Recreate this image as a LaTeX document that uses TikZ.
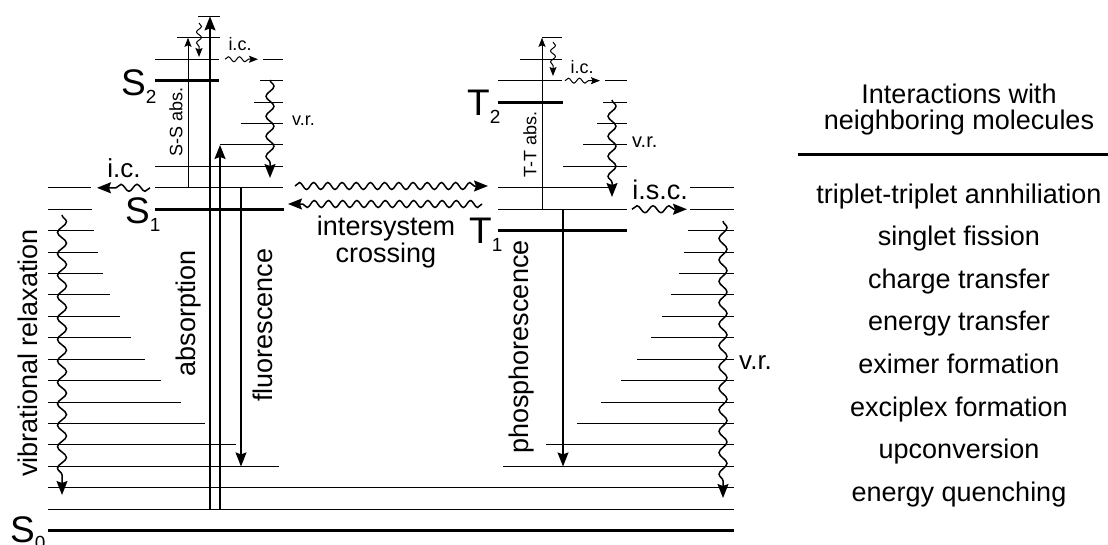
\documentclass[tikz,border=0pt]{standalone}
\usepackage{fontspec}
\setmainfont{Liberation Sans}
\usetikzlibrary{arrows.meta,decorations.pathmorphing}
\newcommand\lvy[1]{530.7-21.43*(#1)}
\begin{document}
\begin{tikzpicture}[x=1pt,y=-1pt,
  lev/.style={line width=1pt},
  thicklev/.style={line width=3pt},
  bighead/.style={-{Stealth[length=14pt,width=11pt,inset=2pt]}},
  smallhead/.style={-{Stealth[length=9pt,width=7pt,inset=1.5pt]}},
  bigarrow/.style={line width=1.6pt,bighead},
  thinarrow/.style={line width=1.3pt,bighead},
  smallarrow/.style={line width=1pt,smallhead},
  vrwave/.style={line width=1.5pt,bighead,decorate,decoration={snake,amplitude=4pt,segment length=20pt,post length=12pt}},
  iscwave/.style={line width=1.5pt,bighead,decorate,decoration={snake,amplitude=3.5pt,segment length=14.2pt,post length=12pt}},
  icwave/.style={line width=1.5pt,bighead,decorate,decoration={snake,amplitude=3.5pt,segment length=16pt,post length=12pt}},
  smallwave/.style={line width=1pt,smallhead,decorate,decoration={snake,amplitude=2.5pt,segment length=11pt,post length=7pt}},
  lab/.style={inner sep=0pt,font=\fontsize{27}{27}\selectfont},
  midlab/.style={inner sep=0pt,font=\fontsize{20}{20}\selectfont},
  smalllab/.style={inner sep=0pt,font=\fontsize{18}{18}\selectfont},
  statelab/.style={inner sep=0pt,anchor=base west,font=\fontsize{37}{37}\selectfont}
]
\useasboundingbox (0,0) rectangle (1108,544);

% ---- ground state and full-width levels
\draw[thicklev] (48,{\lvy{0}}) -- (734,{\lvy{0}});
\foreach \k in {1,2} \draw[lev] (48,{\lvy{\k}}) -- (734,{\lvy{\k}});

% ---- left vibrational ladder (S manifold)
\foreach \k/\xe in {3/279,4/236,5/205,6/181,7/161,8/145,9/131,10/120,11/110,12/103,13/98,14/94,15/92,16/91}
  \draw[lev] (48,{\lvy{\k}}) -- (\xe,{\lvy{\k}});

% ---- right vibrational ladder (T manifold)
\foreach \k/\xs in {3/503,4/546,5/577,6/601,7/621,8/637,9/651,10/662,11/671,12/679,13/684,14/688,15/690,16/690}
  \draw[lev] (\xs,{\lvy{\k}}) -- (734,{\lvy{\k}});

% ---- singlet levels
\draw[thicklev] (155,{\lvy{15}}) -- (284,{\lvy{15}});
\draw[thicklev] (155,{\lvy{21}}) -- (219,{\lvy{21}});
\foreach \k/\xs/\xe in {16/155/283,17/155/283,18/220/283,19/241/283,20/254/283,21/260/283,22/155/219,22/263/283,23/177/220,24/198/220}
  \draw[lev] (\xs,{\lvy{\k}}) -- (\xe,{\lvy{\k}});

% ---- triplet levels
\draw[thicklev] (498,{\lvy{14}}) -- (627,{\lvy{14}});
\draw[thicklev] (498,{\lvy{20}}) -- (563,{\lvy{20}});
\foreach \k/\xs/\xe in {15/498/627,16/498/610,17/563/627,18/583/627,19/597/627,20/603/627,21/498/562,21/605/627,22/520/562,23/542/562}
  \draw[lev] (\xs,{\lvy{\k}}) -- (\xe,{\lvy{\k}});

% ---- state labels
\node[statelab] (S2) at (121,95) {S\lower8pt\hbox{\fontsize{19}{19}\selectfont 2}};
\node[statelab] (S1) at (125,223) {S\lower8pt\hbox{\fontsize{19}{19}\selectfont 1}};
\node[statelab] (S0) at (10,542) {S\lower7pt\hbox{\fontsize{19}{19}\selectfont 0}};
\node[statelab] (T2) at (467,115) {T\lower8pt\hbox{\fontsize{19}{19}\selectfont 2}};
\node[statelab] (T1) at (469,243) {T\lower8pt\hbox{\fontsize{19}{19}\selectfont 1}};

% ---- arrow end points
\coordinate (absAs) at (210,{\lvy{1}});  \coordinate (absAe) at (210,{\lvy{24}});
\coordinate (absBs) at (220,{\lvy{1}});  \coordinate (absBe) at (220,{\lvy{18}});
\coordinate (ssS) at (188,{\lvy{16}});   \coordinate (ssE) at (188,{\lvy{23}});
\coordinate (flS) at (241,{\lvy{16}});   \coordinate (flE) at (241,{\lvy{3}});
\coordinate (phS) at (563,{\lvy{15}});   \coordinate (phE) at (563,{\lvy{3}});
\coordinate (ttS) at (542,{\lvy{15}});   \coordinate (ttE) at (542,{\lvy{23}});
\coordinate (swS1) at (199,23);  \coordinate (swE1) at (199,57);
\coordinate (swS2) at (553,42);  \coordinate (swE2) at (553,76);
\coordinate (icS1) at (225,{\lvy{22}});  \coordinate (icE1) at (258,{\lvy{22}});
\coordinate (icS2) at (565,{\lvy{21}});  \coordinate (icE2) at (600,{\lvy{21}});
\coordinate (vrSs) at (270,80);   \coordinate (vrSe) at (270,178);
\coordinate (vrTs) at (612,100);  \coordinate (vrTe) at (612,197);
\coordinate (icLs) at (150,{\lvy{16}});  \coordinate (icLe) at (97,{\lvy{16}});
\coordinate (iscUs) at (295,186); \coordinate (iscUe) at (488,186);
\coordinate (iscLs) at (482,204); \coordinate (iscLe) at (288,204);
\coordinate (iscRs) at (632,{\lvy{15}}); \coordinate (iscRe) at (687,{\lvy{15}});
\coordinate (vibLs) at (62,215);  \coordinate (vibLe) at (62,495);
\coordinate (vrRs) at (723,221);  \coordinate (vrRe) at (723,498);

% ---- straight arrows
\draw[bigarrow] (absAs) -- (absAe);
\draw[bigarrow] (absBs) -- (absBe);
\draw[thinarrow] (flS) -- (flE);
\draw[thinarrow] (phS) -- (phE);
\draw[smallarrow] (ssS) -- (ssE);
\draw[smallarrow] (ttS) -- (ttE);

% ---- wavy arrows
\draw[smallwave] (swS1) -- (swE1);
\draw[smallwave] (swS2) -- (swE2);
\draw[smallwave] (icS1) -- (icE1);
\draw[smallwave] (icS2) -- (icE2);
\draw[vrwave] (vrSs) -- (vrSe);
\draw[vrwave] (vrTs) -- (vrTe);
\draw[icwave] (icLs) -- (icLe);
\draw[iscwave] (iscUs) -- (iscUe);
\draw[iscwave] (iscLs) -- (iscLe);
\draw[icwave] (iscRs) -- (iscRe);
\draw[vrwave,decoration={snake,amplitude=4.5pt,segment length=21.43pt,post length=12pt}] (vibLs) -- (vibLe);
\draw[vrwave,decoration={snake,amplitude=4pt,segment length=21.43pt,post length=12pt}] (vrRs) -- (vrRe);

% ---- process labels
\node[lab,rotate=90] (vibl) at (28,353) {vibrational relaxation};
\node[lab,rotate=90] (absl) at (189,313) {absorption};
\node[lab,rotate=90] (fll) at (263,325) {fluorescence};
\node[lab,rotate=90] (phl) at (522,347) {phosphorescence};
\node[smalllab,rotate=90] (ssl) at (176,122) {S-S abs.};
\node[smalllab,rotate=90] (ttl) at (530,144) {T-T abs.};
\node[lab,anchor=base,font=\fontsize{26}{26}\selectfont] (icl) at (124,177) {i.c.};
\node[smalllab,anchor=base] (ics) at (240,50) {i.c.};
\node[smalllab,anchor=base] (ict) at (582,73) {i.c.};
\node[smalllab,anchor=base west] (vrs) at (292,125) {v.r.};
\node[midlab,anchor=base west] (vrt) at (632,147) {v.r.};
\node[lab,anchor=base west,font=\fontsize{26}{26}\selectfont] (vrr) at (739,369) {v.r.};
\node[lab,anchor=base] (iscl) at (660,199) {i.s.c.};
\node[lab,anchor=base] (isc1) at (386,235) {intersystem};
\node[lab,anchor=base] (isc2) at (386,262) {crossing};

% ---- right panel
\node[lab,anchor=base] (h1) at (959,103) {Interactions with};
\node[lab,anchor=base] (h2) at (959,129) {neighboring molecules};
\draw[line width=3pt] (798,154.3) -- (1108,154.3);
\foreach \t [count=\i from 0] in {triplet-triplet annhiliation,singlet fission,charge transfer,energy transfer,eximer formation,exciplex formation,upconversion,energy quenching}
  \node[lab,anchor=base] (item\i) at (959,{203+42.6*\i}) {\t};
\end{tikzpicture}
\end{document}
